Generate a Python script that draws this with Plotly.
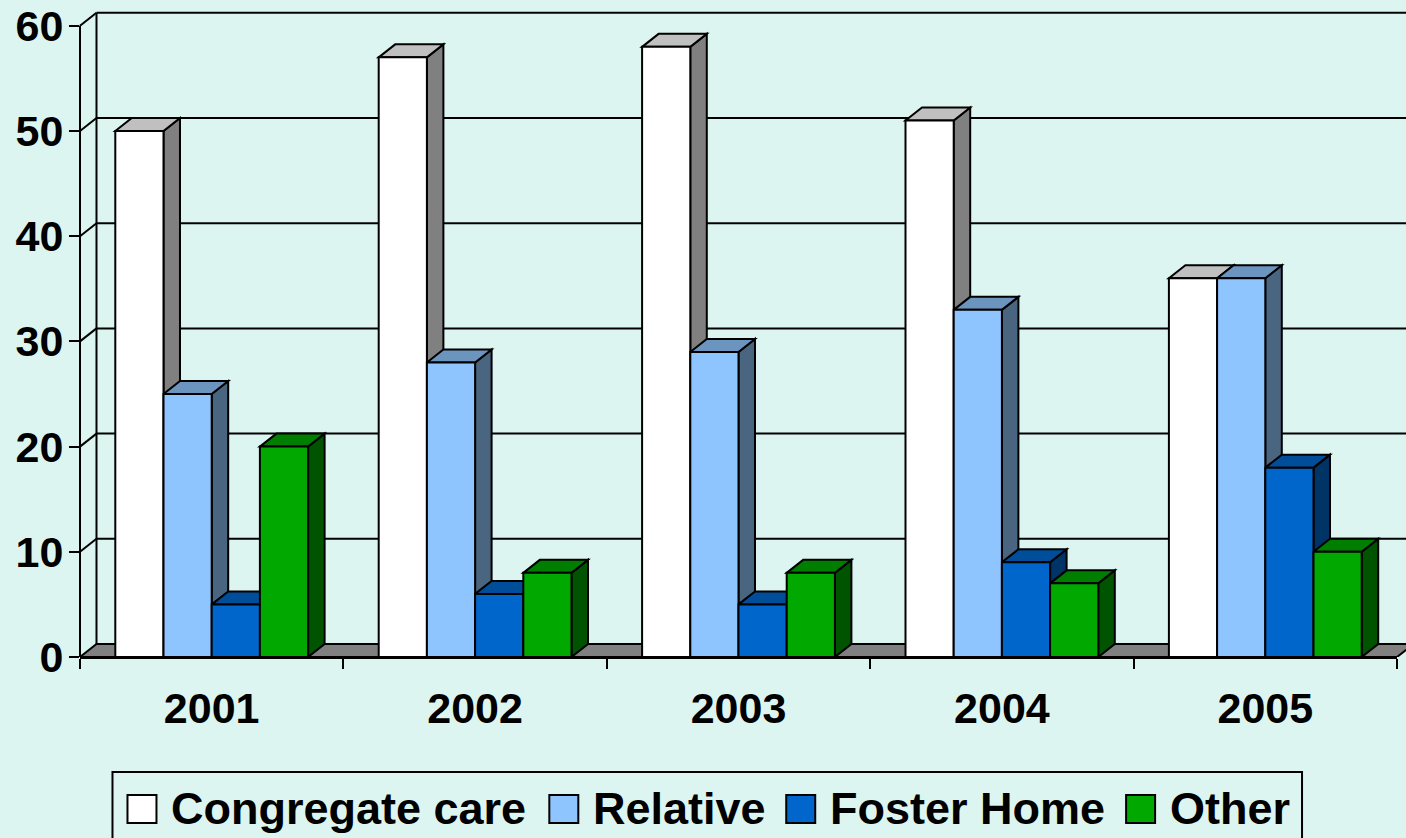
import plotly.graph_objs as go

# Values
years = ['2001', '2002', '2003', '2004', '2005']
series_names = ['Congregate care', 'Relative', 'Foster Home', 'Other']
congregate_care = [50, 57, 58, 51, 36]
relative = [25, 28, 29, 33, 36]
foster_home = [5, 6, 5, 9, 18]
other = [20, 8, 8, 7, 10]
y_ticks = [0, 10, 20, 30, 40, 50, 60]

all_series = [congregate_care, relative, foster_home, other]

# Front, top and side colours of the fake 3D bars
front_colors = ['#FFFFFF', '#8FC5FF', '#0066CC', '#00A800']
top_colors = ['#C0C0C0', '#6B94BF', '#004D99', '#007E00']
side_colors = ['#808080', '#4A6580', '#003366', '#005400']

bg_color = '#DDF5F1'
floor_color = '#808080'
font_name = 'Liberation Sans'

# Page and plot area geometry in pixels
page_w, page_h = 1406, 838
left, right, top, bottom = 79.5, 1397.0, 10, 657
y_max = (bottom - top) / 10.52

bargap = 0.268
bar_w = (1 - bargap) / 4

# Depth of the 3D effect in data units
depth_x = 16.5 / ((right - left) / 5)
depth_y = 13 / 10.52
depth_paper = depth_x / 5


def poly(points):
    return 'M' + 'L'.join(f'{x},{y}' for x, y in points) + 'Z'


shapes = []

# Back wall gridlines and left wall diagonals (x in paper units so they can run past the axis end)
line_style = dict(color='black', width=2)
for v in y_ticks:
    if v > 0:
        shapes.append(dict(type='line', xref='paper', yref='y', layer='below', line=line_style,
                           x0=depth_paper, x1=1.02, y0=v + depth_y, y1=v + depth_y))
        shapes.append(dict(type='line', xref='paper', yref='y', layer='below', line=line_style,
                           x0=0, x1=depth_paper, y0=v, y1=v + depth_y))
shapes.append(dict(type='line', xref='paper', yref='y', layer='below', line=line_style,
                   x0=depth_paper, x1=depth_paper, y0=0 + depth_y, y1=60 + depth_y))
shapes.append(dict(type='line', xref='paper', yref='y', layer='below', line=line_style,
                   x0=0, x1=0, y0=0, y1=60))

# Floor
shapes.append(dict(type='path', xref='paper', yref='y', layer='below', line=line_style,
                   fillcolor=floor_color,
                   path=poly([(0, 0), (depth_paper, depth_y), (1 + depth_paper, depth_y), (1, 0)])))

# Top and side faces of each bar, left to right so later bars cover earlier sides
for i in range(len(years)):
    for j, values in enumerate(all_series):
        v = values[i]
        x0 = i - (1 - bargap) / 2 + j * bar_w
        x1 = x0 + bar_w
        shapes.append(dict(type='path', xref='x', yref='y', layer='below', line=line_style,
                           fillcolor=side_colors[j],
                           path=poly([(x1, 0), (x1 + depth_x, depth_y), (x1 + depth_x, v + depth_y), (x1, v)])))
        shapes.append(dict(type='path', xref='x', yref='y', layer='below', line=line_style,
                           fillcolor=top_colors[j],
                           path=poly([(x0, v), (x0 + depth_x, v + depth_y), (x1 + depth_x, v + depth_y), (x1, v)])))

# Bars
traces = []
for j, values in enumerate(all_series):
    traces.append(go.Bar(x=list(range(len(years))), y=values, name=series_names[j],
                         marker=dict(color=front_colors[j], line=dict(color='black', width=2)),
                         showlegend=False))


def px(x):
    return (x - left) / (right - left)


def py(y):
    return (bottom - y) / (bottom - top)


# Legend box, open at the bottom edge of the page
legend_swatch_x = [127, 549, 786, 1126]
legend_text_x = [170, 592, 829, 1169]
shapes.append(dict(type='rect', xref='paper', yref='paper', layer='above', line=line_style,
                   fillcolor=bg_color, x0=px(112), x1=px(1302), y0=py(860), y1=py(772)))
annotations = []
for j, name in enumerate(series_names):
    shapes.append(dict(type='rect', xref='paper', yref='paper', layer='above', line=line_style,
                       fillcolor=front_colors[j], x0=px(legend_swatch_x[j]), x1=px(legend_swatch_x[j] + 29),
                       y0=py(823), y1=py(795)))
    annotations.append(dict(text=f'<b>{name}</b>', xref='paper', yref='paper', showarrow=False,
                            x=px(legend_text_x[j]), y=py(808), xanchor='left', yanchor='middle',
                            xshift=-1, font=dict(family=font_name, size=45, color='black')))

fig = go.Figure(data=traces)
fig.update_layout(
    width=page_w, height=page_h,
    margin=dict(l=left, r=page_w - right, t=top, b=page_h - bottom, pad=0),
    paper_bgcolor=bg_color, plot_bgcolor=bg_color,
    barmode='group', bargap=bargap, bargroupgap=0,
    font=dict(family=font_name, size=43, color='black'),
    showlegend=False,
    shapes=shapes, annotations=annotations,
    xaxis=dict(range=[-0.5, 4.5], tickvals=list(range(len(years))), ticktext=[f'<b>{y}</b>' for y in years],
               ticks='outside', ticklen=12, tickcolor='rgba(0,0,0,0)', tickwidth=0, automargin=False,
               minor=dict(tickvals=[k - 0.5 for k in range(len(years) + 1)], ticks='outside',
                          ticklen=10, tickwidth=2, tickcolor='black'),
               showline=True, linecolor='black', linewidth=2, showgrid=False, zeroline=False),
    yaxis=dict(range=[0, y_max], tickvals=y_ticks, ticktext=[f'<b>{v}</b>' for v in y_ticks],
               ticks='outside', ticklen=10, tickwidth=2, tickcolor='black', ticklabelstandoff=-3,
               automargin=False, showline=False, showgrid=False, zeroline=False),
)

# Drop the default page margin so the figure fills the window
fig.write_html("out.html", config=dict(displayModeBar=False),
               post_script="document.body.style.margin='0';document.body.style.overflow='hidden';")
